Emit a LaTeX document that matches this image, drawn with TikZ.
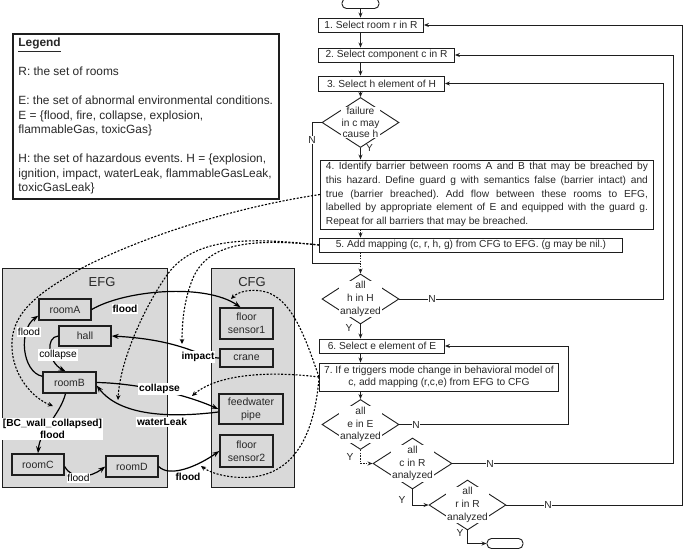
\documentclass[tikz,border=0pt]{standalone}
\usepackage{fontspec}
\setmainfont{Liberation Sans}
\usetikzlibrary{shapes.geometric,arrows.meta}
\definecolor{bggray}{RGB}{217,217,217}
\definecolor{ink}{RGB}{30,30,30}
\definecolor{txt}{RGB}{40,40,40}
\frenchspacing
\begin{document}
\begin{tikzpicture}[x=1pt,y=-1pt,
  fbox/.style={draw=ink, line width=0.9pt, fill=white, inner sep=0pt, font=\fontsize{10.2}{12.5}\selectfont, text=txt, anchor=west, align=center},
  dia/.style={diamond, draw=ink, line width=0.9pt, inner sep=0pt, minimum width=77pt, minimum height=50pt},
  dtext/.style={fill=white, inner sep=0.6pt, align=center, text=txt, font=\fontsize{10.2}{12.5}\selectfont},
  termbox/.style={draw=ink, line width=0.9pt, rounded corners=4.5pt, minimum width=37pt, minimum height=10pt, inner sep=0pt, fill=white},
  farr/.style={draw=ink, line width=0.9pt, -{Stealth[length=5pt,width=4pt]}},
  fln/.style={draw=ink, line width=0.9pt},
  fdot/.style={draw=ink, line width=0.9pt, dash pattern=on 1.5pt off 1.2pt, -{Stealth[length=5pt,width=4pt]}},
  yn/.style={font=\fontsize{10.2}{12}\selectfont, text=txt, inner sep=0.8pt},
  areabox/.style={draw=ink, line width=1.2pt, fill=bggray, anchor=north west, inner sep=0pt},
  enode/.style={draw=ink, line width=1.4pt, fill=bggray, inner sep=0pt, font=\fontsize{10.5}{13}\selectfont, text=txt, align=center},
  earr/.style={draw=black, line width=1.2pt, -{Stealth[length=7pt,width=5pt]}},
  blab/.style={fill=white, inner sep=0.8pt, font=\bfseries\fontsize{10.2}{12}\selectfont, align=center},
  nlab/.style={fill=white, inner sep=0.8pt, font=\fontsize{10.2}{12}\selectfont},
  dotc/.style={draw=black, line width=1.1pt, dash pattern=on 2pt off 1.6pt, -{Stealth[length=5pt,width=4.5pt]}},
]
\fill[white] (0,0) rectangle (685,549);
\useasboundingbox (0,0) rectangle (685,549);

% ---------------- Legend ----------------
\node[draw=ink, line width=1.5pt, anchor=north west, inner xsep=5pt, inner ysep=3pt,
      minimum width=266pt, minimum height=165pt, align=left,
      font=\fontsize{11.9}{14.5}\selectfont, text=txt] (legend) at (12,33)
  {\underline{\textbf{Legend}}\\[14.5pt]
   R: the set of rooms\\[14.5pt]
   E: the set of abnormal environmental conditions.\\
   E = \{flood, fire, collapse, explosion,\\
   flammableGas, toxicGas\}\\[14.5pt]
   H: the set of hazardous events. H = \{explosion,\\
   ignition, impact, waterLeak, flammableGasLeak,\\
   toxicGasLeak\}};

% ---------------- Flowchart ----------------
\node[termbox] (start) at (360.5,3.5) {};
\node[fbox, minimum width=105pt, minimum height=14pt] (b1) at (318,25) {1. Select room r in R};
\node[fbox, minimum width=136pt, minimum height=14pt] (b2) at (318,55) {2. Select component c in R};
\node[fbox, minimum width=126pt, minimum height=15pt] (b3) at (318,83.5) {3. Select h element of H};
\node[dia] (d1) at (360.5,122.5) {};
\node[dtext, font=\fontsize{10.2}{11.6}\selectfont] (t1) at (d1) {failure\\in c may\\cause h};
\node[fbox, minimum width=333pt, minimum height=69pt, inner xsep=5.5pt, font=\fontsize{10.2}{13.6}\selectfont] (b4) at (320,194.5)
  {\makebox[322pt][s]{4. Identify barrier between rooms A and B that may be breached by}\\
   \makebox[322pt][s]{this hazard. Define guard g with semantics false (barrier intact) and}\\
   \makebox[322pt][s]{true (barrier breached). Add flow between these rooms to EFG,}\\
   \makebox[322pt][s]{labelled by appropriate element of E and equipped with the guard g.}\\
   \makebox[322pt][l]{Repeat for all barriers that may be breached.}};
\node[fbox, minimum width=303pt, minimum height=14pt] (b5) at (319,245) {5. Add mapping (c, r, h, g) from CFG to EFG. (g may be nil.)};
\node[dia] (d2) at (360.5,299) {};
\node[dtext, font=\fontsize{10.2}{13}\selectfont] (t2) at (d2) {all\\h in H\\analyzed};
\node[fbox, minimum width=125pt, minimum height=14pt] (b6) at (319,346) {6. Select e element of E};
\node[fbox, minimum width=239pt, minimum height=28pt] (b7) at (319,377) {7. If e triggers mode change in behavioral model of\\c, add mapping (r,c,e) from EFG to CFG};
\node[dia] (d3) at (360.5,424.5) {};
\node[dtext, font=\fontsize{10.2}{12.8}\selectfont] (t3) at (d3) {all\\e in E\\analyzed};
\node[dia, minimum width=79pt, minimum height=51pt] (d4) at (412.5,463.5) {};
\node[dtext, font=\fontsize{10.2}{12.8}\selectfont] (t4) at (d4) {all\\c in R\\analyzed};
\node[dia] (d5) at (467.5,505) {};
\node[dtext, font=\fontsize{10.2}{12.8}\selectfont] (t5) at (d5) {all\\r in R\\analyzed};
\node[termbox, minimum width=36pt] (stop) at (505,543.5) {};

\coordinate (join) at (360.5,263);
\draw[farr] (start.south) -- (start.south |- b1.north);
\draw[farr] (b1.south -| start) -- (b2.north -| start);
\draw[farr] (b2.south -| start) -- (b3.north -| start);
\draw[farr] (b3.south -| start) -- (d1.north);
\draw[farr] (d1.south) -- (b4.north -| d1);
\draw[fdot] (b4.south -| d1) -- (b5.north -| d1);
\draw[fdot] (b5.south -| d1) -- (d2.north);
\draw[fln] (d1.west) -- (312,122.5) -- (312,263) -- (join);
\draw[farr] (d2.south) -- (b6.north -| d2);
\draw[farr] (d2.east) -- (663,299) -- (663,83.5) -- (b3.east);
\draw[farr] (b6.south -| d2) -- (b7.north -| d2);
\draw[farr] (b7.south -| d3) -- (d3.north);
\draw[farr] (d3.east) -- (568,424.5) -- (568,346) -- (b6.east);
\draw[fdot] (d3.south) |- (d4.west);
\draw[farr] (d4.east) -- (673,463.5) -- (673,55) -- (b2.east);
\draw[farr] (d4.south) |- (d5.west);
\draw[farr] (d5.east) -- (682,505) -- (682,25) -- (b1.east);
\draw[farr] (d5.south) |- (stop.west);

\node[yn, fill=white] (n1) at (312,140) {N};
\node[yn] (y1) at (369.5,147.5) {Y};
\node[yn, fill=white] (n2) at (432,299) {N};
\node[yn] (y2) at (349,328) {Y};
\node[yn, fill=white] (n3) at (416,424.5) {N};
\node[yn] (y3) at (350,457) {Y};
\node[yn, fill=white] (n4) at (490,463.5) {N};
\node[yn] (y4) at (402,500) {Y};
\node[yn, fill=white] (n5) at (548,505) {N};
\node[yn] (y5) at (460,533) {Y};

% ---------------- EFG / CFG ----------------
\node[areabox, minimum width=165pt, minimum height=219pt] (efg) at (2,268) {};
\node[areabox, minimum width=83pt, minimum height=219pt] (cfg) at (211,268) {};
\node[font=\fontsize{13}{15}\selectfont, text=txt] (efgt) at (102,282) {EFG};
\node[font=\fontsize{13}{15}\selectfont, text=txt] (cfgt) at (252,282) {CFG};

\node[enode, minimum width=52pt, minimum height=21pt] (roomA) at (65,309.5) {roomA};
\node[enode, minimum width=52pt, minimum height=20pt] (hall) at (85,336) {hall};
\node[enode, minimum width=53pt, minimum height=21pt] (roomB) at (69.5,382.5) {roomB};
\node[enode, minimum width=52pt, minimum height=21pt] (roomC) at (38,464.5) {roomC};
\node[enode, minimum width=52pt, minimum height=21pt] (roomD) at (132,466.5) {roomD};
\node[enode, minimum width=53pt, minimum height=31pt] (fs1) at (246.5,323.5) {floor\\sensor1};
\node[enode, minimum width=53pt, minimum height=18pt] (crane) at (246.5,358) {crane};
\node[enode, minimum width=64pt, minimum height=30pt] (fwp) at (251,409) {feedwater\\pipe};
\node[enode, minimum width=53pt, minimum height=32pt] (fs2) at (246.5,451) {floor\\sensor2};

\draw[earr] (roomA.east) .. controls (125,290) and (205,283) .. ([xshift=-6pt]fs1.north);
\draw[earr] (crane.west) .. controls (200,358) and (185,340) .. (hall.east);
\draw[earr] (hall.west) .. controls (45,337) and (48,362) .. ([xshift=-4pt]roomB.north);
\draw[earr] ([yshift=-5pt]roomB.north west) .. controls (22,372) and (18,330) .. ([yshift=5pt]roomA.south west);
\draw[earr] ([xshift=-4pt]roomB.south) .. controls (60,415) and (40,430) .. (roomC.north);
\draw[earr] ([yshift=-2pt]roomC.east) .. controls (72,480) and (90,478) .. (roomD.west);
\draw[earr] (roomD.east) .. controls (170,478) and (198,466) .. (fs2.west);
\draw[earr] (roomB.east) .. controls (130,383) and (180,392) .. (fwp.west);
\draw[earr] ([yshift=-3pt]fwp.west) .. controls (170,418) and (120,416) .. ([yshift=-3pt]roomB.east);

\node[blab] (lfl1) at (125,309) {flood};
\node[blab] (limp) at (198,357) {impact};
\node[nlab] (lcol) at (58,355) {collapse};
\node[nlab] (lfl2) at (29,332) {flood};
\node[blab, font=\bfseries\fontsize{10.2}{12}\selectfont] (lbc) at (52.5,429) {[BC\_wall\_collapsed]\\flood};
\node[nlab] (lfl3) at (78.5,478) {flood};
\node[blab] (lfl4) at (188,477) {flood};
\node[blab] (lcol2) at (159.5,389) {collapse};
\node[blab] (lwl) at (162,422) {waterLeak};

% ---------------- dotted mapping curves ----------------
\coordinate (ga) at (53,406);
\coordinate (gw) at (118,400);
\coordinate (gi) at (182,344);
\coordinate (gc) at (192,396);
\coordinate (gf1) at (231,299);
\coordinate (gf2) at (201,466);
\draw[dotc] (b4.west) .. controls (230,208) and (140,238) .. (82,268) .. controls (40,292) and (10,312) .. (12,348) .. controls (13,375) and (32,398) .. (ga);
\draw[dotc] (b5.west) .. controls (255,238) and (195,235) .. (167,275) .. controls (145,306) and (120,360) .. (gw);
\draw[dotc] (b5.west) .. controls (248,238) and (208,244) .. (193,278) .. controls (186,295) and (182,315) .. (gi);
\draw[dotc] (b7.west) .. controls (262,370) and (215,376) .. (gc);
\draw[dotc] (b7.west) .. controls (306,340) and (292,296) .. (262,291) .. controls (248,289) and (238,292) .. (gf1);
\draw[dotc] (b7.west) .. controls (316,420) and (302,472) .. (252,477) .. controls (232,479) and (212,474) .. (gf2);
\end{tikzpicture}
\end{document}
